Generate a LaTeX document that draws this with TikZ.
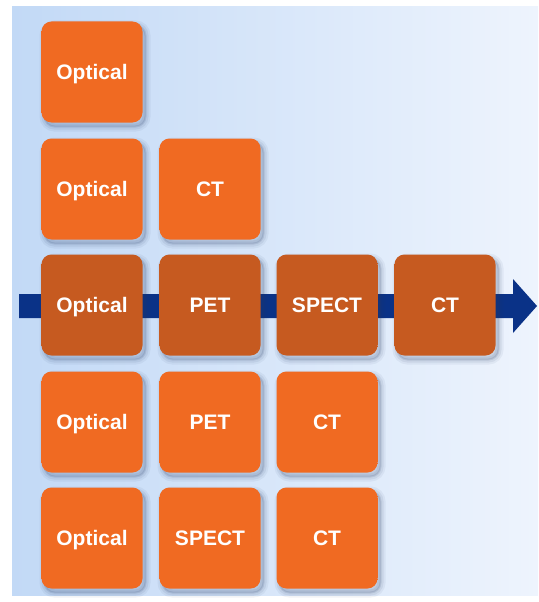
\documentclass[tikz,border=0pt]{standalone}
\usepackage{fontspec}
\setmainfont{Liberation Sans}
\definecolor{bgleft}{RGB}{194,217,246}
\definecolor{bgright}{RGB}{238,244,253}
\definecolor{navy}{RGB}{10,50,135}
\definecolor{shadowc}{RGB}{40,60,100}
\definecolor{otop}{RGB}{246,152,96}
\definecolor{omain}{RGB}{240,106,34}
\definecolor{obot}{RGB}{214,88,24}
\definecolor{dtop}{RGB}{214,122,72}
\definecolor{dmain}{RGB}{198,90,32}
\definecolor{dbot}{RGB}{170,72,20}
\pgfdeclareverticalshading{lightbox}{100bp}{color(0bp)=(obot); color(6bp)=(omain); color(86bp)=(omain); color(96bp)=(otop); color(100bp)=(otop)}
\pgfdeclareverticalshading{darkbox}{100bp}{color(0bp)=(dbot); color(6bp)=(dmain); color(86bp)=(dmain); color(96bp)=(dtop); color(100bp)=(dtop)}
\tikzset{
  softshadow/.style={
    preaction={draw=shadowc, line width=10pt, draw opacity=0.06, transform canvas={shift={(3pt,-4pt)}}},
    preaction={draw=shadowc, line width=6pt, draw opacity=0.08, transform canvas={shift={(3pt,-4pt)}}},
    preaction={draw=shadowc, line width=2pt, fill=shadowc, opacity=0.12, transform canvas={shift={(3pt,-4pt)}}}},
  modality/.style={rounded corners=10pt, minimum width=101pt, minimum height=101pt,
    inner sep=0pt, text=white, font=\fontsize{21}{25}\selectfont\bfseries,
    text height=15pt, text depth=0pt,
    softshadow, shading=lightbox},
  darkmod/.style={modality, shading=darkbox}
}
\begin{document}
\begin{tikzpicture}[x=1pt,y=-1pt]
\useasboundingbox (0,0) rectangle (538,602);
\shade[left color=bgleft, right color=bgright] (12,7) rectangle (538,595);
% timeline arrow
\coordinate (arrowstart) at (19,306);
\coordinate (arrowtip) at (537,306);
\fill[navy] (arrowstart) ++(0,-12) -- (513,294) -- (513,279) -- (arrowtip) -- (513,333) -- (513,318) -- (19,318) -- cycle;
% row 1
\node[modality] (r1c1) at (92,72) {Optical};
% row 2
\node[modality] (r2c1) at (92,189) {Optical};
\node[modality] (r2c2) at (210,189) {CT};
% row 3 (timeline)
\node[darkmod] (r3c1) at (92,305) {Optical};
\node[darkmod] (r3c2) at (210,305) {PET};
\node[darkmod] (r3c3) at (327,305) {SPECT};
\node[darkmod] (r3c4) at (445,305) {CT};
% row 4
\node[modality] (r4c1) at (92,422) {Optical};
\node[modality] (r4c2) at (210,422) {PET};
\node[modality] (r4c3) at (327,422) {CT};
% row 5
\node[modality] (r5c1) at (92,538) {Optical};
\node[modality] (r5c2) at (210,538) {SPECT};
\node[modality] (r5c3) at (327,538) {CT};
\end{tikzpicture}
\end{document}
